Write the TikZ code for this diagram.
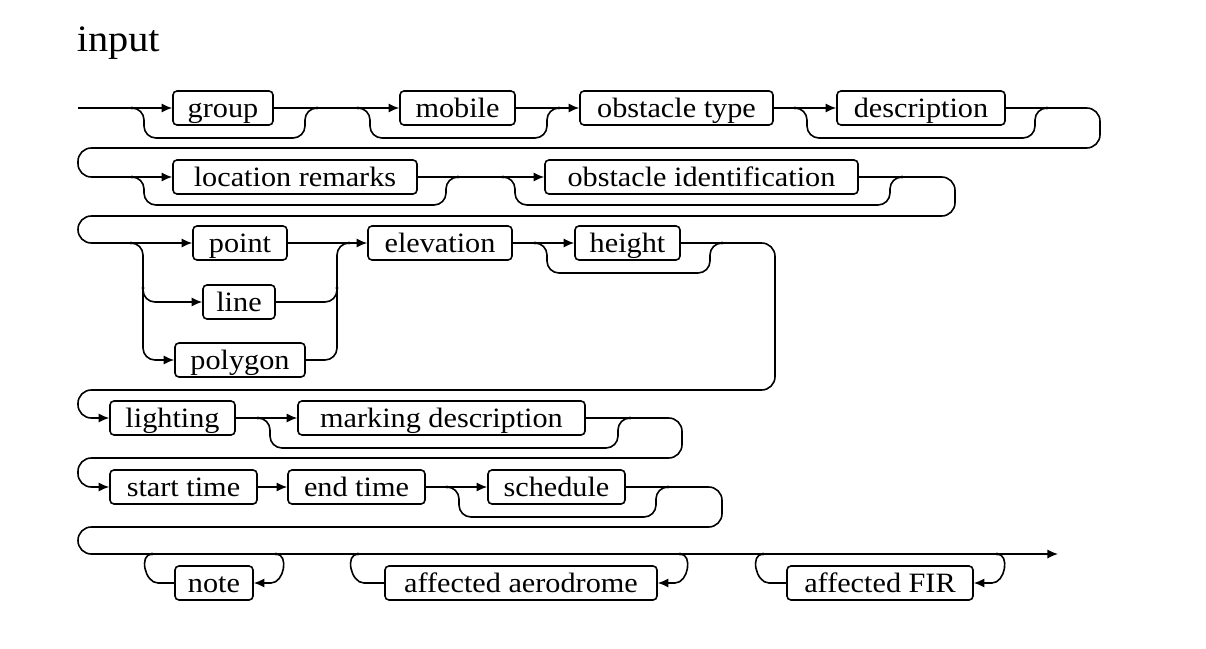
\documentclass[tikz,border=0pt]{standalone}
\usepackage{fontspec}
\setmainfont[FakeStretch=1.08]{Liberation Serif}
\usetikzlibrary{arrows.meta}
\newcommand\bx[5]{\node[box,minimum width={(#3-#2)*0.75pt}] (#1) at ({(#2+#3)/2},#4) {#5};}
\newcommand\jdot[1]{\fill #1 circle (1.2pt);}
\begin{document}
\begin{tikzpicture}[x=0.75pt,y=-0.75pt,
  line width=1.2pt,
  >={Latex[length=8pt,width=7pt]},
  box/.style={draw,rounded corners=3pt,minimum height=25.5pt,inner sep=0pt,
    text height=16pt,text depth=2pt,font=\fontsize{21}{24}\selectfont},
  rc/.style={rounded corners=9pt},
  rcl/.style={rounded corners=10pt},
  lp/.style={looseness=1.15}]
\useasboundingbox (0,0) rectangle (1206,649);
\node[anchor=base west,inner sep=0pt,font=\fontsize{28}{32}\selectfont] (title) at (76,52) {input};
% boxes
\bx{group}{173}{273}{108}{group}
\bx{mobile}{400}{515}{108}{mobile}
\bx{otype}{580}{773}{108}{obstacle type}
\bx{desc}{837}{1005}{108}{description}
\bx{locrem}{173}{417}{177}{location remarks}
\bx{obsid}{545}{858}{177}{obstacle identification}
\bx{point}{193}{287}{243}{point}
\bx{line}{203}{275}{302}{line}
\bx{polygon}{175}{305}{360}{polygon}
\bx{elev}{368}{512}{243}{elevation}
\bx{height}{575}{680}{243}{height}
\bx{lighting}{110}{235}{418}{lighting}
\bx{marking}{298}{585}{418}{marking description}
\bx{start}{110}{257}{487}{start time}
\bx{end}{288}{425}{487}{end time}
\bx{sched}{488}{625}{487}{schedule}
\bx{note}{175}{253}{583}{note}
\bx{aero}{385}{657}{583}{affected aerodrome}
\bx{fir}{787}{973}{583}{affected FIR}
\coordinate (entry) at (78,108);
\coordinate (exit) at (1058,554);
% row 1
\draw[->] (entry) -- (group.west);
\draw[rc] (132,108) -| (144,138) -| (305,108) -- (317,108);
\draw[->] (group.east) -- (mobile.west);
\draw[rc] (358,108) -| (370,138) -| (547,108) -- (559,108);
\draw[->] (mobile.east) -- (otype.west);
\draw[->] (otype.east) -- (desc.west);
\draw[rc] (795,108) -| (807,138) -| (1035,108) -- (1047,108);
\draw[rcl,->] (desc.east) -| (1100,148) -| (78,177) -- (locrem.west);
% row 2
\draw[rc] (132,177) -| (144,205) -| (446,177) -- (458,177);
\draw[->] (locrem.east) -- (obsid.west);
\draw[rc] (503,177) -| (515,205) -| (890,177) -- (902,177);
\draw[rcl,->] (obsid.east) -| (955,216) -| (78,243) -- (point.west);
% row 3
\draw[rc,->] (131,243) -| (143,360) -- (polygon.west);
\draw[rc,->] (143,288) |- (line.west);
\draw[->] (point.east) -- (elev.west);
\draw[rc] (polygon.east) -| (337,243) -- (349,243);
\draw[rc] (line.east) -| (337,288);
\draw[->] (elev.east) -- (height.west);
\draw[rc] (535,243) -| (547,273) -| (710,243) -- (722,243);
\draw[rcl,->] (height.east) -| (775,390) -| (78,418) -- (lighting.west);
% row 4
\draw[->] (lighting.east) -- (marking.west);
\draw[rc] (258,418) -| (270,448) -| (618,418) -- (630,418);
\draw[rcl,->] (marking.east) -| (682,458) -| (78,487) -- (start.west);
% row 5
\draw[->] (start.east) -- (end.west);
\draw[->] (end.east) -- (sched.west);
\draw[rc] (447,487) -| (459,517) -| (656,487) -- (668,487);
\draw[rcl,->] (sched.east) -| (722,527) -| (78,554) -- (exit);
% row 6
\draw (152,554) to[out=180,in=180,lp] (158,583) -- (note.west);
\draw[->] (276,554) to[out=0,in=0,lp] (271,583) -- (note.east);
\draw (358,554) to[out=180,in=180,lp] (364,583) -- (aero.west);
\draw[->] (680,554) to[out=0,in=0,lp] (675,583) -- (aero.east);
\draw (763,554) to[out=180,in=180,lp] (769,583) -- (fir.west);
\draw[->] (997,554) to[out=0,in=0,lp] (992,583) -- (fir.east);
% junction dots
\foreach \p in {(132,108),(317,108),(358,108),(559,108),(795,108),(1047,108),
  (132,177),(458,177),(503,177),(902,177),
  (131,243),(143,288),(337,288),(349,243),(535,243),(722,243),
  (258,418),(630,418),(447,487),(668,487),
  (152,554),(276,554),(358,554),(680,554),(763,554),(997,554)}
  {\jdot{\p}}
\end{tikzpicture}
\end{document}
